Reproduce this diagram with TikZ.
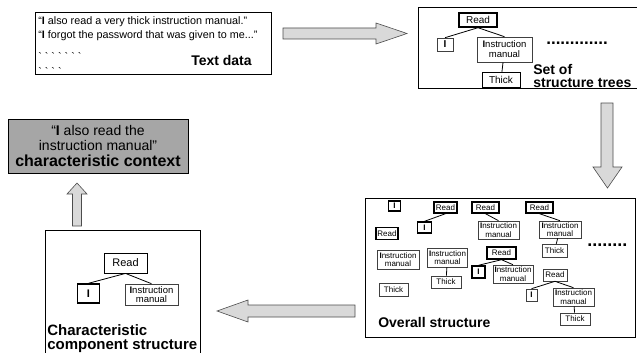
\documentclass[tikz,border=0pt]{standalone}
\usepackage{fontspec}
\setmainfont{Liberation Sans}

\begin{document}
\begin{tikzpicture}[x=1pt,y=-1pt,semithick]

  \tikzstyle{panel}=[draw,line width=0.8pt,inner sep=0pt]
  \tikzstyle{word}=[draw,inner sep=0pt,align=center,line width=0.8pt]
  \tikzstyle{heavy}=[word,line width=1.4pt]
  \tikzstyle{light}=[word,draw=black!75,line width=0.6pt]
  \tikzstyle{small}=[font=\fontsize{8}{8.5}\selectfont]
  \tikzstyle{quote}=[anchor=base west,inner sep=0pt,font=\fontsize{10.8}{12}\selectfont]
  \tikzstyle{label}=[anchor=base west,inner sep=0pt,font=\bfseries\fontsize{14}{14}\selectfont]
  \tikzstyle{bigarrow}=[draw=black!70,fill=black!15,line width=0.6pt]
  \tikzstyle{every edge}=[draw,line width=0.8pt]

  \useasboundingbox (0,0) rectangle (637,353);

  % text data
  \node[panel,minimum width=236pt,minimum height=62pt] (textdata) at (153,43) {};
  \node[quote] (quoteone) at (38,25) {“\textbf{I} also read a very thick instruction manual.”};
  \node[quote] (quotetwo) at (38,39) {“\textbf{I} forgot the password that was given to me...”};
  \node[quote] (etcone) at (38,61)
       {\textasciigrave\ \textasciigrave\ \textasciigrave\ \textasciigrave\ \textasciigrave\ \textasciigrave\ \textasciigrave};
  \node[quote] (etctwo) at (38,76)
       {\textasciigrave\ \textasciigrave\ \textasciigrave\ \textasciigrave};
  \node[label,anchor=base east] (textlabel) at (252,66) {Text data};

  \draw[bigarrow] (283,28) -- (376,28) -- (376,23) -- (407,33.5) -- (376,44) -- (376,39) -- (283,39) -- cycle;

  % set of structure trees
  \node[panel,minimum width=225pt,minimum height=81pt] (trees) at (530.5,47.5) {};
  \node[heavy,minimum width=38pt,minimum height=14pt,font=\fontsize{10}{11}\selectfont] (read) at (478,20) {Read};
  \node[light,minimum width=16pt,minimum height=13pt,font=\fontsize{10}{11}\selectfont] (i) at (445,44.5) {\textbf{I}};
  \node[light,minimum width=55pt,minimum height=25pt,font=\fontsize{9.5}{10}\selectfont] (manual) at (504.5,49.5)
       {\textbf{I}nstruction\\manual};
  \node[word,line width=1pt,minimum width=38pt,minimum height=14pt,font=\fontsize{10}{11}\selectfont] (thick) at (501,80) {Thick};
  \path (read.south) edge (i.north)
        (read.south) edge (manual.north)
        (manual) edge (thick);
  \node[anchor=base west,inner sep=0pt,font=\bfseries\fontsize{17}{17}\selectfont] (moretrees) at (546,45) {.............};
  \node[anchor=south west,inner sep=0pt,align=left,font=\bfseries\fontsize{14}{13.5}\selectfont] (treeslabel) at (533,88)
       {Set of\\structure trees};

  \draw[bigarrow] (601,103) -- (613,103) -- (613,167) -- (622,167) -- (607.5,188) -- (593,167) -- (601,167) -- cycle;

  % overall structure
  \node[panel,minimum width=270pt,minimum height=139pt] (overall) at (500.5,267.5) {};
  \node[heavy,small,minimum width=12pt,minimum height=10pt] (oi) at (394.5,206) {\textbf{I}};
  \node[heavy,small,minimum width=23pt,minimum height=11pt] (oreadb) at (445.5,207.5) {Read};
  \node[heavy,small,minimum width=14pt,minimum height=11pt] (oib) at (424.5,227.5) {\textbf{I}};
  \node[heavy,small,minimum width=22pt,minimum height=12pt] (oread) at (387,233.5) {Read};
  \node[light,small,minimum width=42pt,minimum height=19pt] (omanual) at (398,259.5) {\textbf{I}nstruction\\manual};
  \node[light,small,minimum width=29pt,minimum height=13pt] (othick) at (393.5,290) {Thick};
  \node[light,small,minimum width=40pt,minimum height=19pt] (omanualb) at (447.5,257.5) {\textbf{I}nstruction\\manual};
  \node[light,small,minimum width=30pt,minimum height=12pt] (othickb) at (446,282) {Thick};
  \node[heavy,small,minimum width=27pt,minimum height=11pt] (oreadc) at (485.5,207.5) {Read};
  \node[light,small,minimum width=41pt,minimum height=18pt] (omanualc) at (498.5,230) {\textbf{I}nstruction\\manual};
  \node[heavy,small,minimum width=27pt,minimum height=11pt] (oreadd) at (539.5,207.5) {Read};
  \node[light,small,minimum width=42pt,minimum height=17pt] (omanuald) at (560,229.5) {\textbf{I}nstruction\\manual};
  \node[light,small,minimum width=25pt,minimum height=13pt] (othickd) at (554.5,250.5) {Thick};
  \node[heavy,small,minimum width=29pt,minimum height=12pt] (oreade) at (501.5,253) {Read};
  \node[heavy,small,minimum width=13pt,minimum height=12pt] (oie) at (478.5,272) {\textbf{I}};
  \node[light,small,minimum width=40pt,minimum height=18pt] (omanuale) at (513,274) {\textbf{I}nstruction\\manual};
  \node[light,small,minimum width=24pt,minimum height=12pt] (oreadf) at (555,275) {Read};
  \node[light,small,minimum width=11pt,minimum height=12pt] (oif) at (531.5,295) {\textbf{I}};
  \node[light,small,minimum width=41pt,minimum height=18pt] (omanualf) at (573.5,297) {\textbf{I}nstruction\\manual};
  \node[light,small,minimum width=30pt,minimum height=12pt] (othickf) at (575,319) {Thick};
  \path (oreadb.south) edge (oib.north)
        (omanualb) edge (othickb)
        (oreadc.south) edge (omanualc.north)
        (oreadd.south) edge (omanuald.north)
        (omanuald) edge (othickd)
        (oreade.south) edge (oie.north)
        (oreade.south) edge (omanuale.north)
        (oreadf.south) edge (oif.north)
        (oreadf.south) edge (omanualf.north)
        (omanualf) edge (othickf);
  \node[anchor=base west,inner sep=0pt,font=\bfseries\fontsize{18}{18}\selectfont] (moreoverall) at (587,246.5) {........};
  \node[label] (overalllabel) at (378,327) {Overall structure};

  \draw[bigarrow] (355,305) -- (248,305) -- (248,300) -- (217,311) -- (248,322) -- (248,317) -- (355,317) -- cycle;

  % characteristic component structure
  \node[panel,minimum width=155pt,minimum height=130pt] (component) at (122.5,295) {};
  \node[word,minimum width=43pt,minimum height=20pt,font=\fontsize{11}{12}\selectfont] (cread) at (125.5,263) {Read};
  \node[heavy,minimum width=22pt,minimum height=19pt,font=\fontsize{11}{12}\selectfont] (ci) at (88.5,293.5) {\textbf{I}};
  \node[light,minimum width=53pt,minimum height=21pt,font=\fontsize{9.5}{9.5}\selectfont] (cmanual) at (151.5,294.5)
       {\textbf{I}nstruction\\manual};
  \path (cread.south) edge (ci.north)
        (cread.south) edge (cmanual.north);
  \node[label,font=\bfseries\fontsize{15}{15}\selectfont] (componentone) at (47,335) {Characteristic};
  \node[label,font=\bfseries\fontsize{15}{15}\selectfont] (componenttwo) at (47,349) {component structure};

  \draw[bigarrow] (72.5,226) -- (72.5,194) -- (67,194) -- (77,183) -- (87,194) -- (81.5,194) -- (81.5,226) -- cycle;

  % characteristic context
  \node[panel,fill=black!35,minimum width=180pt,minimum height=54pt] (context) at (98,146) {};
  \node[anchor=base,inner sep=0pt,font=\fontsize{14}{14}\selectfont] (contextone) at (98,135) {“\textbf{I} also read the};
  \node[anchor=base,inner sep=0pt,font=\fontsize{14}{14}\selectfont] (contexttwo) at (98,150) {instruction manual”};
  \node[anchor=base,inner sep=0pt,font=\bfseries\fontsize{16}{16}\selectfont] (contextthree) at (98,166) {characteristic context};
\end{tikzpicture}
\end{document}
